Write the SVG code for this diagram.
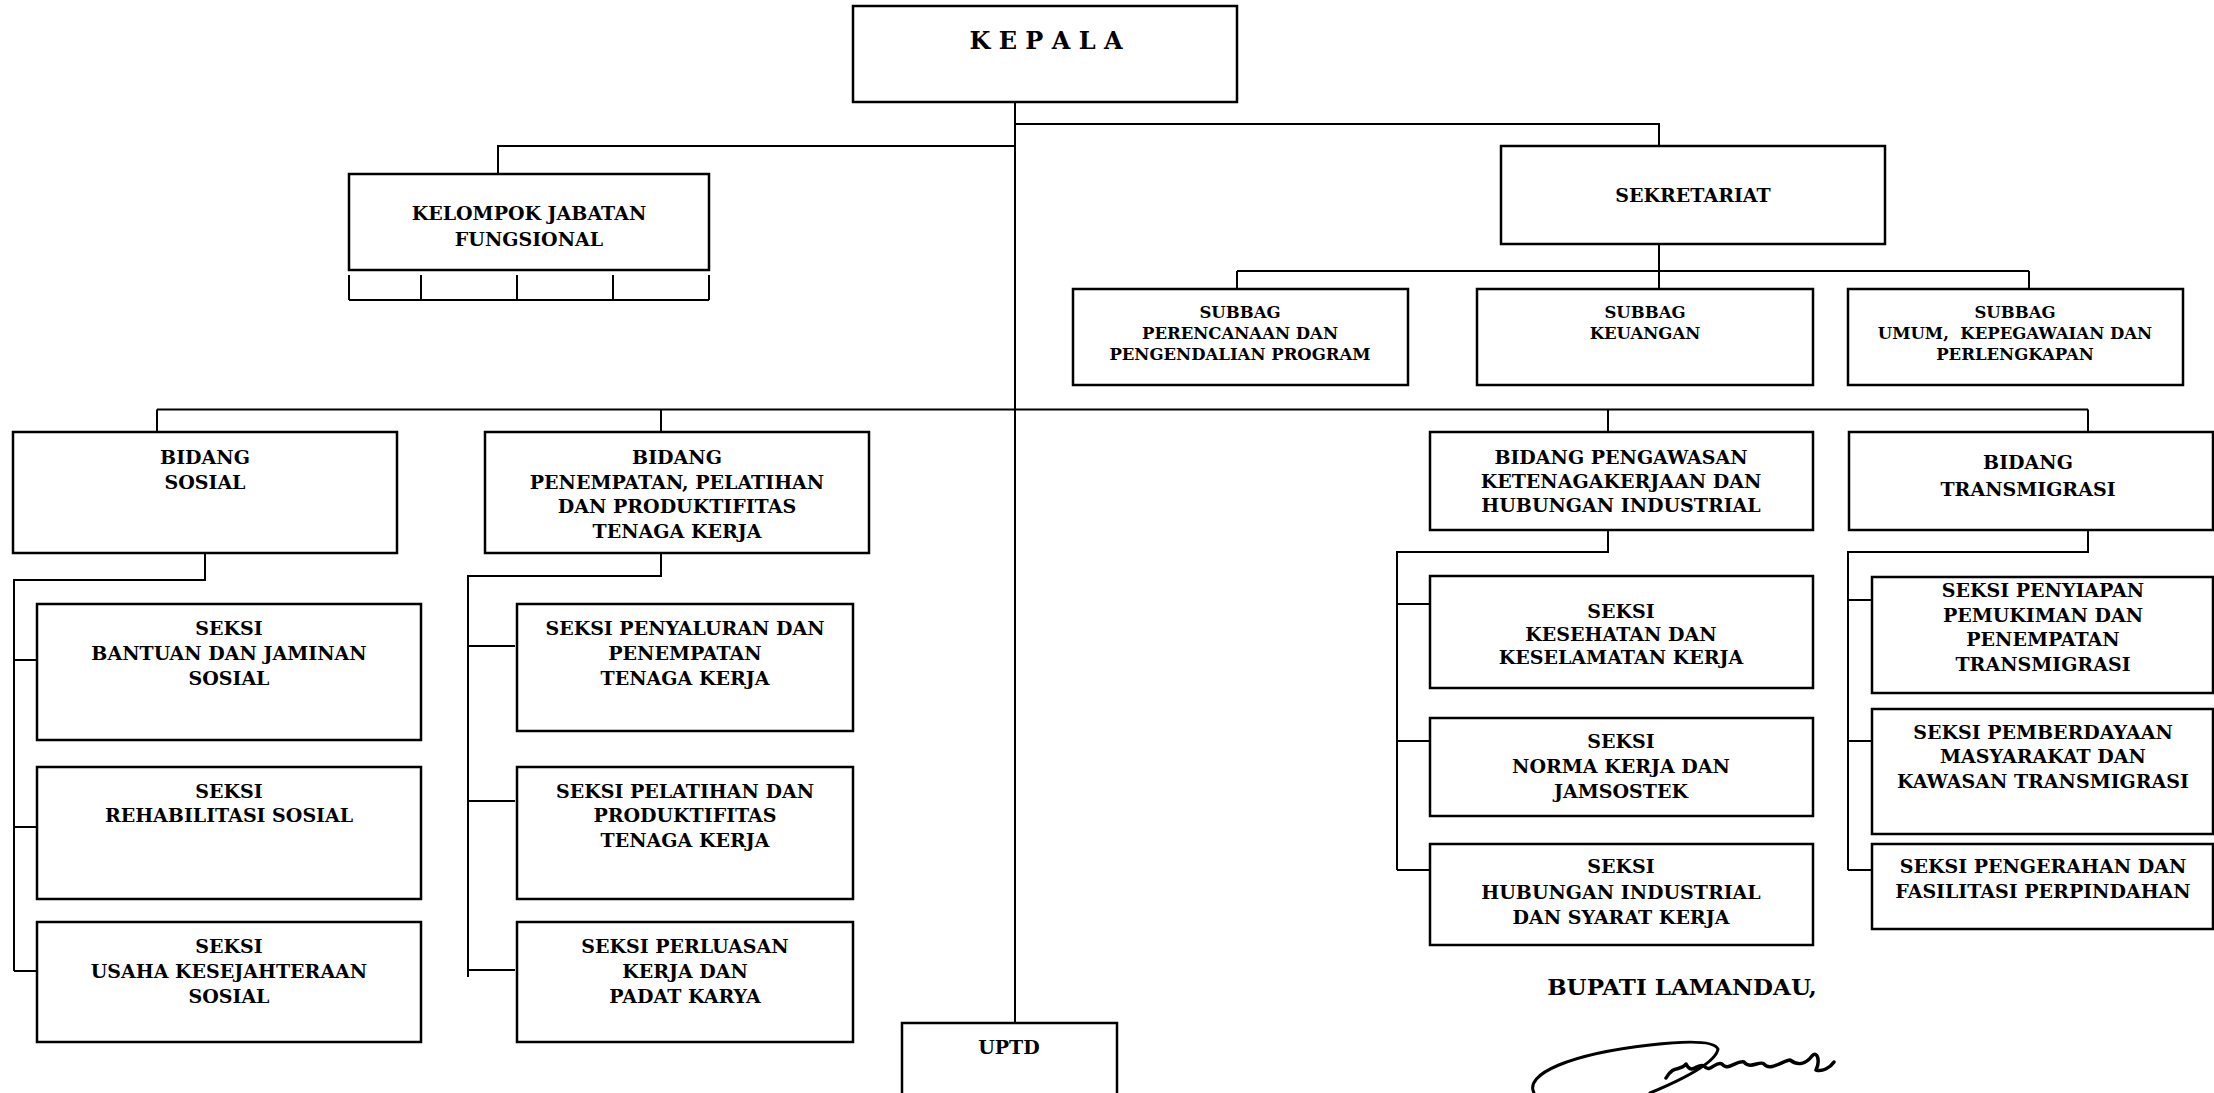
<svg xmlns="http://www.w3.org/2000/svg" width="2214" height="1093" viewBox="0 0 2214 1093">
  <style>
    .box { fill: #fff; stroke: #000; stroke-width: 2.5; }
    .ln { fill: none; stroke: #000; stroke-width: 2; }
    text { font-family: "DejaVu Serif", "Liberation Serif", serif; font-weight: bold; fill: #000; text-anchor: middle; font-size: 19px; }
    .sm { font-size: 16.5px; }
    .big { font-size: 23px; }
    .head { font-size: 24px; }
    .sig { fill: none; stroke: #000; stroke-linecap: round; stroke-linejoin: round; }
  </style>
  <rect width="2214" height="1093" fill="#fff"/>

  <!-- connectors -->
  <g id="connectors" class="ln">
    <!-- trunk from KEPALA down to UPTD -->
    <path d="M1015 102 V1023"/>
    <path d="M1015 124 H1659 V146"/>
    <path d="M1015 146 H498 V174"/>
    <!-- comb under the functional group -->
    <path d="M349 300 H709 M349 275 V300 M421 275 V300 M517 275 V300 M613 275 V300 M709 275 V300"/>
    <!-- secretariat to sub-sections -->
    <path d="M1659 244 V289 M1237 271 H2029 M1237 271 V289 M2029 271 V289"/>
    <!-- main bidang bus -->
    <path d="M157 409.5 H2088 M157 409.5 V432 M661 409.5 V432 M1608 409.5 V432 M2088 409.5 V432"/>
    <!-- bidang sosial sections -->
    <path d="M205 553 V580 H14 V971 M14 660 H37 M14 827 H37 M14 971 H37"/>
    <!-- bidang penempatan sections -->
    <path d="M661 553 V576 H468 V977 M468 646 H515 M468 801 H515 M468 970 H515"/>
    <!-- bidang pengawasan sections -->
    <path d="M1608 530 V552 H1397 V870 M1397 604 H1429 M1397 741 H1429 M1397 870 H1429"/>
    <!-- bidang transmigrasi sections -->
    <path d="M2088 530 V552 H1848 V870 M1848 600 H1872 M1848 741 H1872 M1848 870 H1872"/>
  </g>

  <g id="kepala">
    <rect class="box" x="853" y="6" width="384" height="96"/>
    <text class="head" x="1046" y="49" xml:space="preserve">K E P A L A</text>
  </g>

  <g id="kelompok-jabatan-fungsional">
    <rect class="box" x="349" y="174" width="360" height="96"/>
    <text x="529" y="220">KELOMPOK JABATAN</text>
    <text x="529" y="246">FUNGSIONAL</text>
  </g>

  <g id="sekretariat">
    <rect class="box" x="1501" y="146" width="384" height="98"/>
    <text x="1693" y="202">SEKRETARIAT</text>
  </g>

  <g id="subbag-perencanaan">
    <rect class="box" x="1073" y="289" width="335" height="96"/>
    <text class="sm" x="1240" y="318">SUBBAG</text>
    <text class="sm" x="1240" y="339">PERENCANAAN DAN</text>
    <text class="sm" x="1240" y="360">PENGENDALIAN PROGRAM</text>
  </g>

  <g id="subbag-keuangan">
    <rect class="box" x="1477" y="289" width="336" height="96"/>
    <text class="sm" x="1645" y="318">SUBBAG</text>
    <text class="sm" x="1645" y="339">KEUANGAN</text>
  </g>

  <g id="subbag-umum">
    <rect class="box" x="1848" y="289" width="335" height="96"/>
    <text class="sm" x="2015" y="318">SUBBAG</text>
    <text class="sm" x="2015" y="339" xml:space="preserve">UMUM,  KEPEGAWAIAN DAN</text>
    <text class="sm" x="2015" y="360">PERLENGKAPAN</text>
  </g>

  <g id="bidang-sosial">
    <rect class="box" x="13" y="432" width="384" height="121"/>
    <text x="205" y="464">BIDANG</text>
    <text x="205" y="488.5">SOSIAL</text>
  </g>

  <g id="bidang-penempatan">
    <rect class="box" x="485" y="432" width="384" height="121"/>
    <text x="677" y="464">BIDANG</text>
    <text x="677" y="488.5">PENEMPATAN, PELATIHAN</text>
    <text x="677" y="513">DAN PRODUKTIFITAS</text>
    <text x="677" y="537.5">TENAGA KERJA</text>
  </g>

  <g id="bidang-pengawasan">
    <rect class="box" x="1430" y="432" width="383" height="98"/>
    <text x="1621" y="464">BIDANG PENGAWASAN</text>
    <text x="1621" y="488">KETENAGAKERJAAN DAN</text>
    <text x="1621" y="512">HUBUNGAN INDUSTRIAL</text>
  </g>

  <g id="bidang-transmigrasi">
    <rect class="box" x="1849" y="432" width="364" height="98"/>
    <text x="2028" y="469">BIDANG</text>
    <text x="2028" y="496">TRANSMIGRASI</text>
  </g>

  <g id="seksi-bantuan">
    <rect class="box" x="37" y="604" width="384" height="136"/>
    <text x="229" y="634.5">SEKSI</text>
    <text x="229" y="660">BANTUAN DAN JAMINAN</text>
    <text x="229" y="684.5">SOSIAL</text>
  </g>

  <g id="seksi-rehabilitasi">
    <rect class="box" x="37" y="767" width="384" height="132"/>
    <text x="229" y="797.5">SEKSI</text>
    <text x="229" y="822">REHABILITASI SOSIAL</text>
  </g>

  <g id="seksi-usaha-kesejahteraan">
    <rect class="box" x="37" y="922" width="384" height="120"/>
    <text x="229" y="953">SEKSI</text>
    <text x="229" y="977.5">USAHA KESEJAHTERAAN</text>
    <text x="229" y="1003">SOSIAL</text>
  </g>

  <g id="seksi-penyaluran">
    <rect class="box" x="517" y="604" width="336" height="127"/>
    <text x="685" y="634.5">SEKSI PENYALURAN DAN</text>
    <text x="685" y="660">PENEMPATAN</text>
    <text x="685" y="684.5">TENAGA KERJA</text>
  </g>

  <g id="seksi-pelatihan">
    <rect class="box" x="517" y="767" width="336" height="132"/>
    <text x="685" y="797.5">SEKSI PELATIHAN DAN</text>
    <text x="685" y="822">PRODUKTIFITAS</text>
    <text x="685" y="847">TENAGA KERJA</text>
  </g>

  <g id="seksi-perluasan">
    <rect class="box" x="517" y="922" width="336" height="120"/>
    <text x="685" y="953">SEKSI PERLUASAN</text>
    <text x="685" y="977.5">KERJA DAN</text>
    <text x="685" y="1003">PADAT KARYA</text>
  </g>

  <g id="seksi-kesehatan">
    <rect class="box" x="1430" y="576" width="383" height="112"/>
    <text x="1621" y="618">SEKSI</text>
    <text x="1621" y="641">KESEHATAN DAN</text>
    <text x="1621" y="664">KESELAMATAN KERJA</text>
  </g>

  <g id="seksi-norma">
    <rect class="box" x="1430" y="718" width="383" height="98"/>
    <text x="1621" y="748">SEKSI</text>
    <text x="1621" y="773">NORMA KERJA DAN</text>
    <text x="1621" y="798">JAMSOSTEK</text>
  </g>

  <g id="seksi-hubungan-industrial">
    <rect class="box" x="1430" y="844" width="383" height="101"/>
    <text x="1621" y="873">SEKSI</text>
    <text x="1621" y="899">HUBUNGAN INDUSTRIAL</text>
    <text x="1621" y="924">DAN SYARAT KERJA</text>
  </g>

  <g id="seksi-penyiapan">
    <rect class="box" x="1872" y="577" width="341" height="116"/>
    <text x="2043" y="597">SEKSI PENYIAPAN</text>
    <text x="2043" y="622">PEMUKIMAN DAN</text>
    <text x="2043" y="645.5">PENEMPATAN</text>
    <text x="2043" y="670.5">TRANSMIGRASI</text>
  </g>

  <g id="seksi-pemberdayaan">
    <rect class="box" x="1872" y="709" width="341" height="125"/>
    <text x="2043" y="739">SEKSI PEMBERDAYAAN</text>
    <text x="2043" y="763">MASYARAKAT DAN</text>
    <text x="2043" y="788">KAWASAN TRANSMIGRASI</text>
  </g>

  <g id="seksi-pengerahan">
    <rect class="box" x="1872" y="844" width="341" height="85"/>
    <text x="2043" y="873">SEKSI PENGERAHAN DAN</text>
    <text x="2043" y="898">FASILITASI PERPINDAHAN</text>
  </g>

  <g id="uptd">
    <rect class="box" x="902" y="1023" width="215" height="90"/>
    <text x="1009" y="1054">UPTD</text>
  </g>

  <!-- signature block -->
  <g id="pengesahan">
    <text class="big" x="1682" y="995">BUPATI LAMANDAU,</text>
    <path class="sig" stroke-width="3" d="M1534 1093 C1524 1074 1570 1054 1650 1045 C1684 1041 1714 1040 1718 1049 C1716 1062 1686 1078 1650 1093"/>
    <path class="sig" stroke-width="3.5" d="M1666 1078 C1674 1064 1680 1072 1686 1064 C1692 1076 1698 1062 1704 1066 C1710 1074 1716 1060 1722 1064 C1728 1072 1736 1060 1744 1062 C1750 1070 1760 1060 1764 1064 C1770 1072 1784 1060 1790 1060 C1798 1066 1806 1064 1812 1056 C1818 1050 1820 1062 1816 1070 C1822 1072 1830 1068 1834 1062"/>
  </g>
</svg>
